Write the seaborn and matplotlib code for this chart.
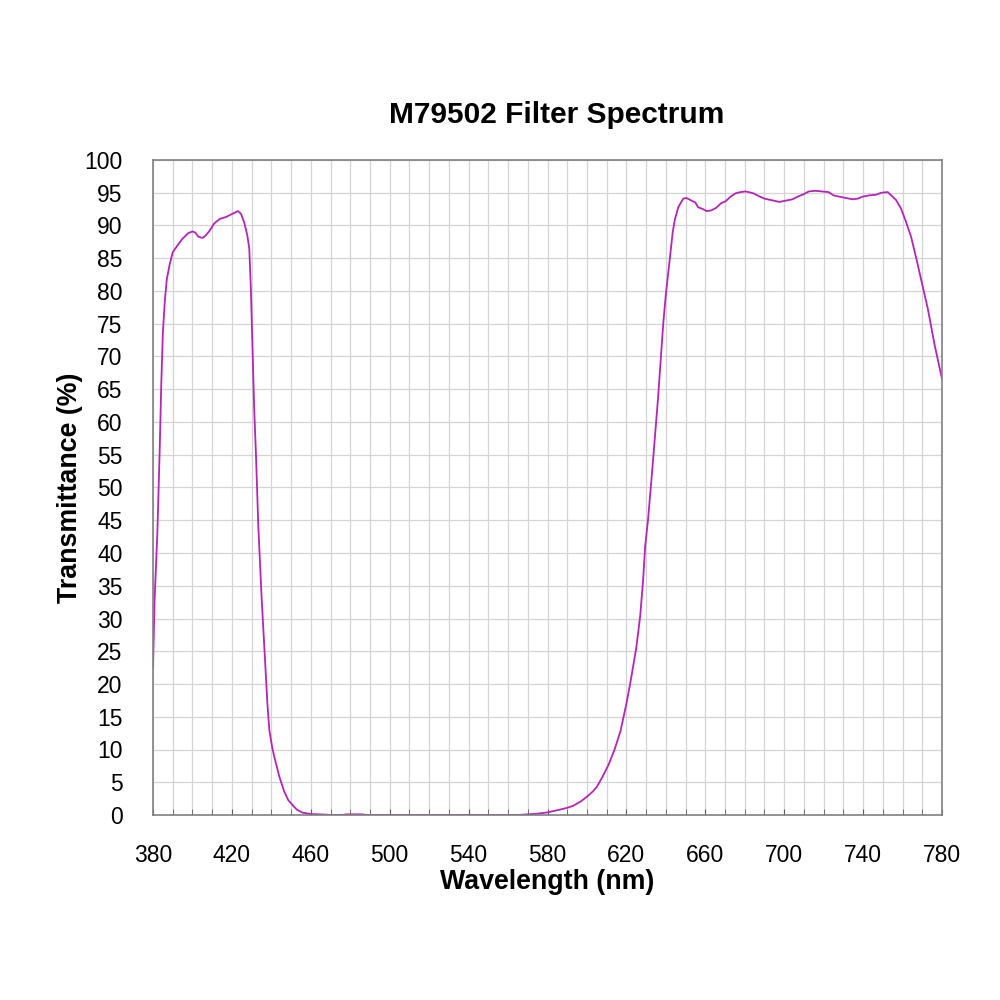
import numpy as np
import pandas as pd
import matplotlib
matplotlib.use('Agg')
import matplotlib.pyplot as plt
import seaborn as sns

#------------------------------------------------
# data
wavelength = [380, 380.8, 381.5, 382.2, 383.4, 384.2, 385, 386, 387, 388.4,
              390, 392.5, 395, 397.7, 400, 401.5, 403, 405, 406.5, 408.7,
              411, 413.8, 417, 420.3, 423, 424.6, 426.3, 427.8, 428.8, 429.6,
              430.4, 431.3, 432.2, 433.4, 435.1, 436.8, 438, 439, 440.5, 441.5,
              444, 446.5, 448.5, 450.8, 453, 455.8, 460, 468, 470, 476,
              478, 486, 488, 565, 570, 575, 580, 586, 590, 593,
              597, 600, 603, 605, 608, 611, 614, 617, 620, 622,
              625, 627, 628.5, 629.5, 631, 633, 634.5, 636, 637.5, 638.7,
              640, 642, 643.5, 644.5, 646.3, 648.8, 650.5, 653, 655, 656.3,
              658.8, 660.7, 663, 665.5, 668, 670.3, 672.8, 675.3, 677.8, 680.3,
              682, 684.5, 687, 690, 693, 697.5, 700.8, 704.2, 707.5, 710,
              712.5, 715.8, 719, 722.5, 725, 728, 731.4, 734.6, 737.3, 739.7,
              743.2, 746.6, 749.2, 752.5, 754.2, 756.7, 759.2, 761.7, 764.3, 766.8,
              770.3, 772.8, 776.3, 780]
transmittance = [22.6, 32.8, 38, 43, 55.8, 65.9, 73.6, 78.5, 81.8, 84,
                 85.9, 87, 88, 88.8, 89.1, 88.9, 88.3, 88.1, 88.4, 89.2,
                 90.3, 91, 91.3, 91.8, 92.2, 91.8, 90.4, 88.5, 86.5, 80.5,
                 72, 62, 55, 44, 33, 23.6, 17, 12.9, 10.2, 8.9,
                 5.9, 3.6, 2.3, 1.5, 0.8, 0.36, 0.15, 0.05, 0, 0,
                 0.1, 0.1, 0, 0, 0.1, 0.2, 0.4, 0.8, 1.1, 1.4,
                 2.1, 2.8, 3.6, 4.3, 5.9, 7.7, 10, 12.8, 17, 20.2,
                 25.5, 30.4, 36, 41, 45.2, 52.3, 58, 63.5, 70, 75.1,
                 79.5, 84.9, 89, 90.8, 92.8, 94.1, 94.2, 93.8, 93.5, 92.8,
                 92.5, 92.2, 92.3, 92.7, 93.4, 93.7, 94.4, 94.9, 95.1, 95.2,
                 95.1, 94.9, 94.5, 94.1, 93.9, 93.6, 93.8, 94, 94.5, 94.8,
                 95.2, 95.3, 95.2, 95.1, 94.6, 94.4, 94.2, 94, 94.1, 94.4,
                 94.6, 94.7, 95, 95.1, 94.6, 93.9, 92.6, 90.6, 88.3, 85.2,
                 80.6, 77.3, 71.7, 66.6]

x_ticks = [380, 420, 460, 500, 540, 580, 620, 660, 700, 740, 780]
y_ticks = list(range(0, 101, 5))

#------------------------------------------------
sns.set_style('white')
plt.rcParams['font.family'] = ['Liberation Sans', 'DejaVu Sans']
plt.rcParams['text.color'] = 'black'
plt.rcParams['axes.labelcolor'] = 'black'
plt.rcParams['xtick.labelcolor'] = 'black'
plt.rcParams['ytick.labelcolor'] = 'black'

df = pd.DataFrame({'wl': wavelength, 't': transmittance})

fig = plt.figure(figsize=(10, 10), dpi=100)
ax = fig.add_axes([0.153, 0.185, 0.789, 0.655])

#plot
sns.lineplot(data=df, x='wl', y='t', ax=ax, color='#b624b9', lw=1.3, sort=False, zorder=2)

#adjust
ax.set_xlim(380, 780)
ax.set_ylim(0, 100)
ax.set_xticks(x_ticks)
ax.set_xticks(np.arange(380, 781, 10), minor=True)
ax.set_yticks(y_ticks)
ax.grid(True, which='both', axis='x', color='#d4d4d4', lw=0.9)
ax.grid(True, which='major', axis='y', color='#d4d4d4', lw=0.9)
ax.set_axisbelow(True)

for s in ax.spines.values():
    s.set_color('#808080')
    s.set_linewidth(1.2)

ax.tick_params(axis='x', which='both', direction='in', length=4, color='#606060',
               labelsize=16.5, pad=21, bottom=True)
ax.tick_params(axis='y', which='both', length=0, labelsize=16.5, pad=22)

ax.set_xlabel('Wavelength (nm)', fontsize=19.3, weight='bold', labelpad=1)
ax.set_ylabel('Transmittance (%)', fontsize=19.3, weight='bold', labelpad=1)
fig.text(0.557, 0.885, 'M79502 Filter Spectrum', fontsize=21.5, weight='bold',
         ha='center', va='center')

#save
plt.savefig('out.png', dpi=100)
plt.close()
